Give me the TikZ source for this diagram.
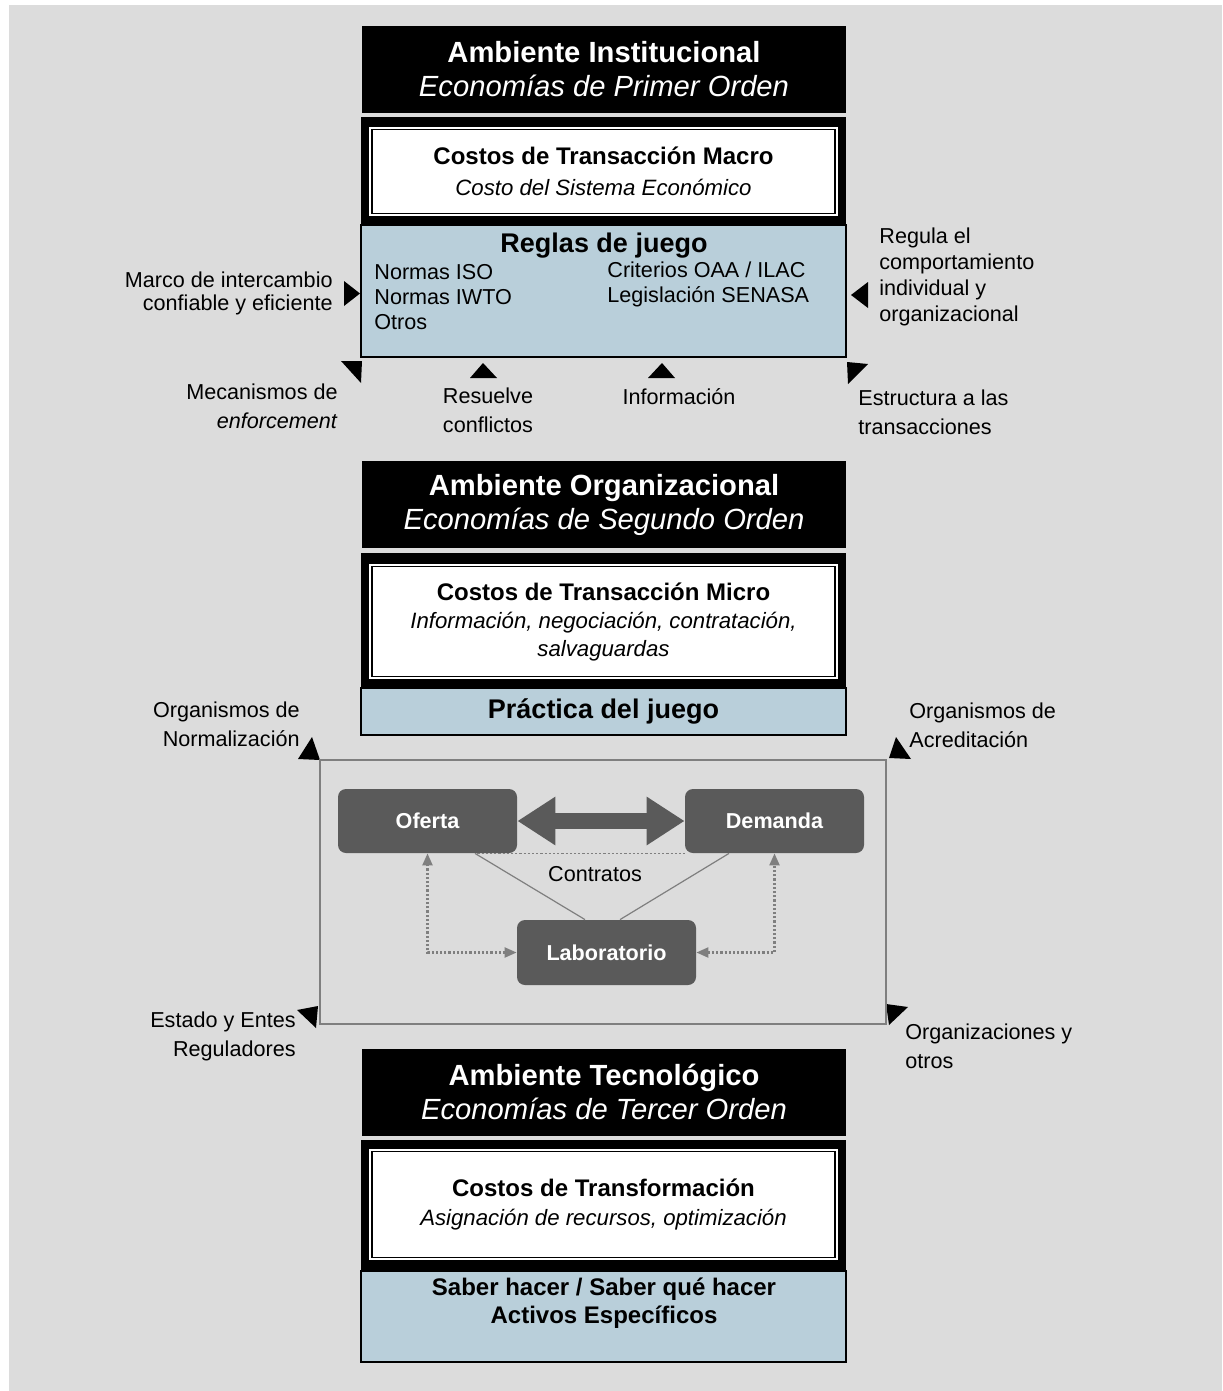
\documentclass[tikz,border=0pt]{standalone}
\usepackage{fontspec}
\setmainfont{Liberation Sans}
\usepackage{xcolor}
\usetikzlibrary{positioning,arrows.meta}

\definecolor{bggray}{HTML}{DCDCDC}
\definecolor{rulesblue}{HTML}{B9CFDA}
\definecolor{darkbox}{HTML}{5A5A5A}
\definecolor{framegray}{HTML}{7F7F7F}

\newcommand{\subline}[1]{{\fontsize{11.1}{14.5}\selectfont\itshape #1}}

\begin{document}
\begin{tikzpicture}[x=0.5pt, y=-0.5pt,
        head/.style={rectangle, fill=black, text=white, minimum width=242pt, minimum height=43.5pt, inner sep=0pt, align=center, font=\fontsize{14.6}{17}\selectfont},
        frame/.style={rectangle, fill=black, minimum width=242.5pt, inner sep=0pt},
        costbox/.style={rectangle, fill=white, draw=white, double=black, line width=0.9pt, double distance=0.8pt, minimum width=231.5pt, inner sep=0pt, align=center, font=\fontsize{12}{15.5}\selectfont},
        rules/.style={rectangle, fill=rulesblue, draw=black, line width=0.9pt, minimum width=242.5pt, inner sep=0pt},
        ruletitle/.style={inner sep=0pt, font=\fontsize{13.5}{15}\selectfont\bfseries},
        actor/.style={rectangle, fill=darkbox, rounded corners=4pt, minimum width=89.5pt, minimum height=32pt, text=white, font=\fontsize{10.8}{12}\selectfont\bfseries},
        note/.style={inner sep=0pt, font=\fontsize{10.8}{14.5}\selectfont},
        small/.style={inner sep=0pt, font=\fontsize{10.8}{12.5}\selectfont},
        dots/.style={framegray, line width=1.1pt, densely dotted},
        tip/.style={{Triangle[length=6pt,width=5pt]}-{Triangle[length=6pt,width=5pt]}}
    ]
    \useasboundingbox (0,0) rectangle (1222,1391);
    \fill[bggray] (9,5) rectangle (1222,1391);

    % Institutional environment
    \node[head] (instit) at (604,69.5) {\textbf{Ambiente Institucional}\\\textit{Economías de Primer Orden}};
    \node[frame, minimum height=54pt] (frameA) at (603.5,171) {};
    \node[costbox, minimum height=42pt] (macro) at (603.5,171.5) {\textbf{Costos de Transacción Macro}\\\subline{Costo del Sistema Económico}};
    \node[rules, minimum height=66pt] (reglas) at (603.5,291) {};
    \node[ruletitle] (reglastit) at (604,246) {Reglas de juego};
    \node[small, anchor=west, align=left] (normas) at (374,297) {Normas ISO\\Normas IWTO\\Otros};
    \node[small, anchor=west, align=left] (criterios) at (607,284.5) {Criterios OAA / ILAC\\Legislación SENASA};

    % Labels around the rules
    \node[note, anchor=east, align=right, font=\fontsize{10.8}{11.5}\selectfont] (marco) at (333,293.5) {Marco de intercambio\\confiable y eficiente};
    \node[note, anchor=west, align=left, font=\fontsize{10.8}{13}\selectfont] (regula) at (879,277) {Regula el\\comportamiento\\individual y\\organizacional};
    \node[note, anchor=east, align=right] (mecan) at (338,406.5) {Mecanismos de\\\textit{enforcement}};
    \node[note, align=center] (resuelve) at (488,410) {Resuelve\\conflictos};
    \node[note] (info) at (679,397) {Información};
    \node[note, anchor=west, align=left] (estruc) at (858,412) {Estructura a las\\transacciones};

    % Arrowheads
    \fill (344,281) -- (360,293.5) -- (344,306) -- cycle;
    \fill (868,282) -- (851,295) -- (868,308) -- cycle;
    \fill (341,361) -- (362,361) -- (361,383) -- cycle;
    \fill (470,378) -- (483,363) -- (497,378) -- cycle;
    \fill (648,378) -- (662,363) -- (675,378) -- cycle;
    \fill (847,362) -- (868,364) -- (848,384) -- cycle;

    % Organizational environment
    \node[head] (organiz) at (604,504.5) {\textbf{Ambiente Organizacional}\\\textit{Economías de Segundo Orden}};
    \node[frame, minimum height=67.5pt] (frameB) at (603.5,620.5) {};
    \node[costbox, minimum height=55pt, font=\fontsize{12}{14}\selectfont] (micro) at (603.5,621.5) {\textbf{Costos de Transacción Micro}\\\subline{Información, negociación, contratación,}\\\subline{salvaguardas}};
    \node[rules, minimum height=23.5pt, font=\fontsize{13.5}{15}\selectfont\bfseries] (practica) at (603.5,711.5) {Práctica del juego};

    % Labels around the market
    \node[note, anchor=east, align=right] (orgnorm) at (300,724.5) {Organismos de\\Normalización};
    \node[note, anchor=west, align=left] (orgacred) at (909,725.5) {Organismos de\\Acreditación};
    \node[note, anchor=east, align=right] (estado) at (296,1036.5) {Estado y Entes\\Reguladores};
    \node[note, anchor=west, align=left] (orgotros) at (905,1046.5) {Organizaciones y\\otros};
    \fill (298,759) -- (312,737) -- (320,760) -- cycle;
    \fill (889,758) -- (896,737) -- (911,759) -- cycle;
    \fill (297,1010) -- (318,1006) -- (316,1028) -- cycle;
    \fill (886,1004) -- (908,1007) -- (889,1025) -- cycle;

    % Market
    \node[draw=framegray, line width=0.8pt, minimum width=283pt, minimum height=132pt, inner sep=0pt] (mercado) at (603,892) {};
    \node[actor] (oferta) at (427.5,821) {Oferta};
    \node[actor] (demanda) at (774.5,821) {Demanda};
    \node[actor, minimum height=32.5pt] (lab) at (606.5,952.5) {Laboratorio};
    \node[note] (contratos) at (595,874) {Contratos};

    \draw[darkbox, line width=8pt, {Triangle[length=19pt,width=23pt]}-{Triangle[length=19pt,width=23pt]}] (oferta) -- (demanda);
    \draw[dots, line width=0.7pt] ([xshift=-20pt]oferta.south east) -- (demanda.south west);
    \draw[framegray, line width=0.6pt] ([xshift=23.75pt]oferta.south) -- ([xshift=-10.75pt]lab.north);
    \draw[framegray, line width=0.6pt] ([xshift=-22.75pt]demanda.south) -- ([xshift=6.75pt]lab.north);
    \draw[dots, tip] (lab.west) -| (oferta.south);
    \draw[dots, tip] (lab.east) -| (demanda.south);

    % Technological environment
    \node[head] (tecno) at (604,1092) {\textbf{Ambiente Tecnológico}\\\textit{Economías de Tercer Orden}};
    \node[frame, minimum height=65.5pt] (frameC) at (603.5,1205.5) {};
    \node[costbox, minimum height=53pt, font=\fontsize{12}{14.5}\selectfont] (transf) at (603.5,1204.5) {\textbf{Costos de Transformación}\\\subline{Asignación de recursos, optimización}};
    \node[rules, minimum height=45.5pt] (saber) at (603.5,1316.5) {};
    \node[font=\fontsize{12}{14}\selectfont\bfseries, align=center, inner sep=0pt] (sabertxt) at (604,1303) {Saber hacer / Saber qué hacer\\Activos Específicos};
\end{tikzpicture}
\end{document}
